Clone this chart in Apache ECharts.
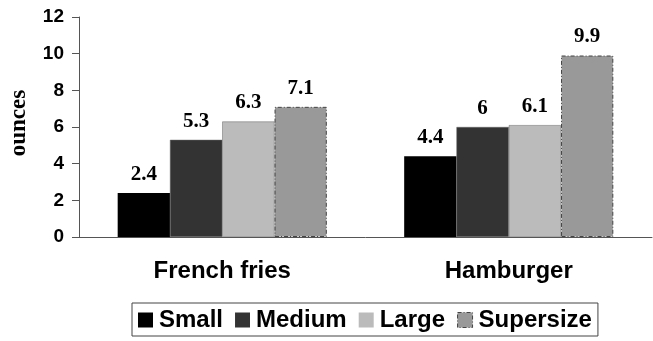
<!DOCTYPE html>
<html>
<head>
<meta charset="utf-8">
<script src="https://cdn.jsdelivr.net/npm/echarts@6/dist/echarts.min.js"></script>
<style>
  html, body { margin: 0; padding: 0; background: #fff; }
  #chart { width: 653px; height: 341px; }
</style>
</head>
<body>
<div id="chart"></div>
<script>
  const categories = ['French fries', 'Hamburger']
  const sizes = ['Small', 'Medium', 'Large', 'Supersize']
  const small = [2.4, 4.4]
  const medium = [5.3, 6]
  const large = [6.3, 6.1]
  const supersize = [7.1, 9.9]
  const yTicks = [0, 2, 4, 6, 8, 10, 12]

  const colors = ['#000000', '#333333', '#bbbbbb', '#999999']
  const values = [small, medium, large, supersize]
  const dashBorder = { borderColor: '#444', borderWidth: 1, borderType: [4, 2, 1, 2] }

  const chart = echarts.init(document.getElementById('chart'))
  chart.setOption({
    animation: false,
    color: colors,
    grid: { left: 79, right: 1, top: 17, bottom: 104, containLabel: false, outerBoundsMode: 'none' },
    legend: {
      data: sizes.map((name, i) => ({
        name: name,
        icon: 'rect',
        itemStyle: i === 3 ? Object.assign({ color: colors[i] }, dashBorder) : { color: colors[i], borderWidth: 0 }
      })),
      top: 303,
      left: 132,
      itemWidth: 15,
      itemHeight: 15,
      itemGap: 12,
      padding: [5, 6, 4, 6],
      borderColor: '#444',
      borderWidth: 1,
      textStyle: { fontFamily: 'Liberation Sans', fontWeight: 'bold', fontSize: 24, color: '#000', padding: [0, 0, 0, 1] }
    },
    xAxis: {
      type: 'category',
      data: categories,
      axisLine: { lineStyle: { color: '#555', width: 1 } },
      axisTick: { length: 7, lineStyle: { color: '#555' } },
      axisLabel: { margin: 22, fontFamily: 'Liberation Sans', fontWeight: 'bold', fontSize: 24, color: '#000' }
    },
    yAxis: {
      type: 'value',
      min: yTicks[0],
      max: yTicks[yTicks.length - 1],
      interval: 2,
      name: 'ounces',
      nameLocation: 'middle',
      nameRotate: 90,
      nameGap: 48,
      nameTextStyle: { fontFamily: 'Liberation Serif', fontWeight: 'bold', fontSize: 23, color: '#000', padding: [0, 0, 0, 8] },
      splitLine: { show: false },
      axisLine: { show: true, lineStyle: { color: '#555', width: 1 } },
      axisTick: { show: true, length: 7, lineStyle: { color: '#555' } },
      axisLabel: { margin: 15, fontFamily: 'Liberation Sans', fontWeight: 'bold', fontSize: 19, color: '#000' }
    },
    series: sizes.map((name, i) => ({
      name: name,
      type: 'bar',
      data: values[i],
      barGap: 0,
      barCategoryGap: '27%',
      itemStyle: i === 3
        ? Object.assign({ color: colors[i] }, dashBorder)
        : { color: colors[i], borderColor: '#666', borderWidth: i === 0 ? 0 : 0.5 },
      label: {
        show: true,
        position: 'top',
        distance: 8,
        fontFamily: 'Liberation Serif',
        fontWeight: 'bold',
        fontSize: 21,
        color: '#000'
      }
    }))
  })
</script>
</body>
</html>
